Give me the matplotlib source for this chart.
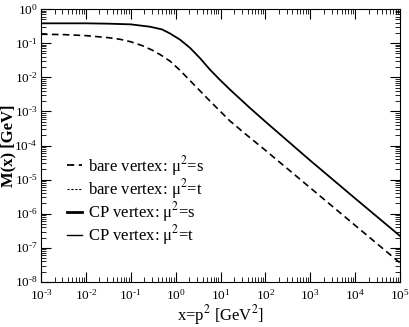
import matplotlib
matplotlib.use("Agg")
import matplotlib.pyplot as plt
from matplotlib.lines import Line2D
from matplotlib.ticker import FixedLocator, FuncFormatter
import numpy as np

plt.rcParams['font.family'] = ['Liberation Serif', 'DejaVu Serif']
plt.rcParams['mathtext.fontset'] = 'stix'

# log10(x) and log10(M)
cp_logx = [-3, -2, -1.5, -1, -0.567, -0.3, -0.122, 0.1, 0.322, 0.55, 0.767, 0.99, 1.21, 1.656, 2, 2.5, 3, 4, 5]
cp_logm = [-0.42, -0.42, -0.43, -0.45, -0.52, -0.60, -0.72, -0.90, -1.14, -1.45, -1.78, -2.08, -2.36, -2.90, -3.30, -3.87, -4.44, -5.55, -6.65]

bare_logx = [-3, -2.5, -2, -1.5, -1.23, -1, -0.75, -0.53, -0.34, -0.122, 0.1, 0.322, 0.767, 1.21, 1.544, 2, 3, 4, 5]
bare_logm = [-0.74, -0.75, -0.78, -0.84, -0.89, -0.96, -1.07, -1.20, -1.34, -1.53, -1.80, -2.10, -2.70, -3.28, -3.65, -4.14, -5.24, -6.34, -7.44]

x_decades = [-3, -2, -1, 0, 1, 2, 3, 4, 5]
y_decades = [-8, -7, -6, -5, -4, -3, -2, -1, 0]

labels = ['bare vertex: μ$^2$=s', 'bare vertex: μ$^2$=t', 'CP vertex: μ$^2$=s', 'CP vertex: μ$^2$=t']

fig = plt.figure(figsize=(4.09, 3.27), dpi=100)
ax = fig.add_axes([41/409, 1 - 282/327, (400 - 41)/409, (282 - 9)/327])

ax.plot(10.0 ** np.array(bare_logx), 10.0 ** np.array(bare_logm), color='black', lw=1.2, dashes=[4, 2.5])
ax.plot(10.0 ** np.array(cp_logx), 10.0 ** np.array(cp_logm), color='black', lw=1.3)

ax.set_xscale('log')
ax.set_yscale('log')
ax.set_xlim(1e-3, 1e5)
ax.set_ylim(1e-8, 1e0)

def fmt(v, pos):
    e = int(round(np.log10(v)))
    s = str(e).replace('-', '\u2010')
    return '10$^{\\mathregular{' + s + '}}$'

for axis, dec in ((ax.xaxis, x_decades), (ax.yaxis, y_decades)):
    major = [10.0 ** d for d in dec]
    minor = [m * 10.0 ** d for d in dec[:-1] for m in range(2, 10)]
    axis.set_major_locator(FixedLocator(major))
    axis.set_minor_locator(FixedLocator(minor))
    axis.set_major_formatter(FuncFormatter(fmt))

ax.tick_params(which='both', direction='in', top=True, right=True, labelsize=9.5)
ax.tick_params(which='major', length=7, width=0.8)
ax.tick_params(which='minor', length=3.5, width=0.6)
ax.tick_params(axis='x', which='major', pad=4.5)
ax.tick_params(axis='y', which='major', pad=2.5)

ax.set_xlabel('x=p$^2$ [GeV$^2$]', fontsize=12, va='top')
ax.xaxis.set_label_coords(0.5, -0.078)
ax.set_ylabel('M(x) [GeV]', fontsize=12, fontweight='bold')
ax.yaxis.set_label_coords(-0.068, 0.5)

handles = [
    Line2D([], [], color='black', lw=1.3, dashes=[4, 2.5]),
    Line2D([], [], color='black', lw=0.8, dashes=[2, 1.5]),
    Line2D([], [], color='black', lw=2.0),
    Line2D([], [], color='black', lw=1.0),
]
ax.legend(handles, labels, loc='upper left', bbox_to_anchor=(0.05, 0.5), frameon=False,
          fontsize=12, handlelength=0.9, handletextpad=0.35, labelspacing=-0.05, borderpad=0)

fig.savefig('out.png', dpi=100)
